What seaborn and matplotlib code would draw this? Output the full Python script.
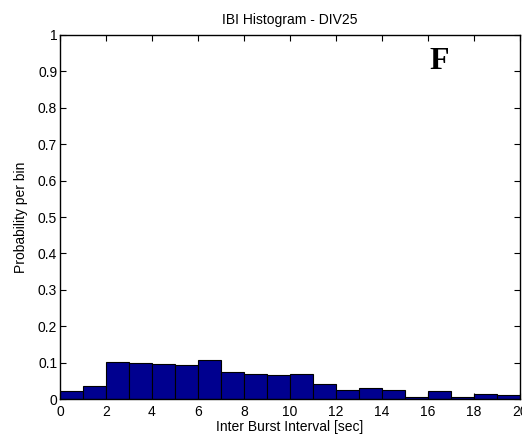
import numpy as np
import pandas as pd
import matplotlib
matplotlib.use("Agg")
import matplotlib.pyplot as plt
import seaborn as sns

bin_edges = list(range(0, 21))
probabilities = [0.022, 0.037, 0.101, 0.098, 0.095, 0.093, 0.108, 0.075, 0.069, 0.067,
                 0.069, 0.040, 0.026, 0.029, 0.026, 0.006, 0.021, 0.006, 0.015, 0.012]
x_ticks = [0, 2, 4, 6, 8, 10, 12, 14, 16, 18, 20]
y_ticks = [0, 0.1, 0.2, 0.3, 0.4, 0.5, 0.6, 0.7, 0.8, 0.9, 1]
y_tick_labels = ["0", "0.1", "0.2", "0.3", "0.4", "0.5", "0.6", "0.7", "0.8", "0.9", "1"]

sns.set_style("white")
plt.rcParams['font.family'] = ['Liberation Sans', 'DejaVu Sans']
plt.rcParams['text.color'] = 'black'
plt.rcParams['axes.labelcolor'] = 'black'
plt.rcParams['xtick.color'] = 'black'
plt.rcParams['ytick.color'] = 'black'

centers = [(bin_edges[i] + bin_edges[i + 1]) / 2 for i in range(len(probabilities))]
df = pd.DataFrame({"ibi": centers, "p": probabilities})

fig = plt.figure(figsize=(5.22, 4.36), dpi=100)
ax = fig.add_axes([60 / 522, 1 - 399 / 436, 460 / 522, 364 / 436])
sns.histplot(data=df, x="ibi", weights="p", bins=bin_edges, stat="count",
             color="#00008F", edgecolor="black", linewidth=0.8, alpha=1, ax=ax)

ax.set_xlim(0, 20)
ax.set_ylim(0, 1)
ax.set_xticks(x_ticks)
ax.set_xticklabels([str(t) for t in x_ticks])
ax.set_yticks(y_ticks)
ax.set_yticklabels(y_tick_labels)
ax.tick_params(direction="in", length=4, width=0.8, labelsize=10, top=True, right=True,
               bottom=True, left=True, colors="black")
ax.tick_params(axis="x", pad=4)
ax.tick_params(axis="y", pad=2)
for s in ax.spines.values():
    s.set_visible(True)
    s.set_color("black")
    s.set_linewidth(1.0)
ax.set_xlabel("Inter Burst Interval [sec]", fontsize=10, labelpad=1, color="black")
ax.set_ylabel("Probability per bin", fontsize=10, labelpad=7, color="black")
ax.set_title("IBI Histogram - DIV25", fontsize=10, pad=8, color="black")
ax.text(0.824, 0.926, "F", transform=ax.transAxes, fontsize=23, fontweight="bold",
        family="Liberation Serif", ha="center", va="center", color="black")

fig.savefig("out.png", dpi=100, facecolor="white")
